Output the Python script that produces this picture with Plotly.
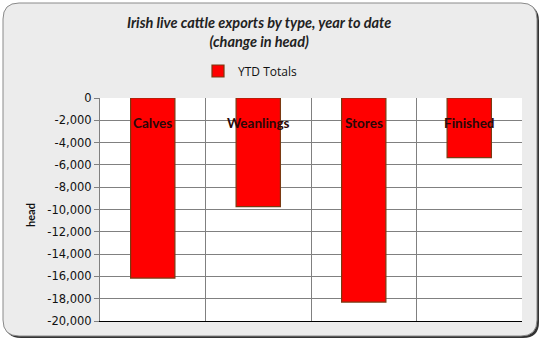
import plotly.graph_objects as go

categories = ["Calves", "Weanlings", "Stores", "Finished"]
ytd_totals = [-16150, -9750, -18300, -5350]
y_ticks = [0, -2000, -4000, -6000, -8000, -10000, -12000, -14000, -16000, -18000, -20000]
y_tick_labels = ["0", "-2,000", "-4,000", "-6,000", "-8,000", "-10,000", "-12,000",
                 "-14,000", "-16,000", "-18,000", "-20,000"]

W, H = 543, 341
L, R, T, B = 100, 21, 98, 20
pw, ph = W - L - R, H - T - B


def px(x):
    return (x - L) / pw


def py(y):
    return (H - B - y) / ph


def rounded_rect(x0, y0, x1, y1, r):
    pts = []
    pts.append(f"M {px(x0 + r)},{py(y0)}")
    pts.append(f"L {px(x1 - r)},{py(y0)}")
    pts.append(f"Q {px(x1)},{py(y0)} {px(x1)},{py(y0 + r)}")
    pts.append(f"L {px(x1)},{py(y1 - r)}")
    pts.append(f"Q {px(x1)},{py(y1)} {px(x1 - r)},{py(y1)}")
    pts.append(f"L {px(x0 + r)},{py(y1)}")
    pts.append(f"Q {px(x0)},{py(y1)} {px(x0)},{py(y1 - r)}")
    pts.append(f"L {px(x0)},{py(y0 + r)}")
    pts.append(f"Q {px(x0)},{py(y0)} {px(x0 + r)},{py(y0)}")
    pts.append("Z")
    return " ".join(pts)


fig = go.Figure()
fig.add_trace(go.Bar(
    x=categories, y=ytd_totals, name="YTD Totals",
    marker=dict(color="#ff0000", line=dict(color="#7a3a12", width=1.2)),
    width=0.42, showlegend=True,
))

shapes = [
    dict(type="path", xref="paper", yref="paper", layer="below",
         path=rounded_rect(5, 5, 539, 338, 16),
         fillcolor="#333333", line=dict(width=0)),
    dict(type="path", xref="paper", yref="paper", layer="below",
         path=rounded_rect(3, 3, 537, 336, 16),
         fillcolor="#ececec", line=dict(color="#8a8a8a", width=1)),
    dict(type="rect", xref="paper", yref="paper", layer="below",
         x0=0, x1=1, y0=0, y1=1, fillcolor="white", line=dict(width=0)),
]

annotations = [
    dict(x=c, y=-2200, xref="x", yref="y", text=f"<b>{c}</b>", showarrow=False,
         font=dict(family="Lato, Open Sans, sans-serif", size=13.5, color="#2a0808"),
         xanchor="center", yanchor="middle")
    for c in categories
]
annotations.append(dict(
    x=px(259), y=py(32), xref="paper", yref="paper", showarrow=False,
    text="<b><i>Irish live cattle exports by type, year to date<br>(change in head)</i></b>",
    font=dict(family="Lato, sans-serif", size=14.5, color="#222222"),
    xanchor="center", yanchor="middle", align="center",
))
annotations.append(dict(
    x=px(30), y=py(215), xref="paper", yref="paper", showarrow=False,
    text="<b>head</b>", textangle=-90,
    font=dict(family="Lato, sans-serif", size=11, color="#111111"),
    xanchor="center", yanchor="middle",
))

fig.update_layout(
    width=W, height=H,
    margin=dict(l=L, r=R, t=T, b=B, pad=0),
    paper_bgcolor="white", plot_bgcolor="white",
    shapes=shapes, annotations=annotations,
    legend=dict(orientation="h", x=px(250), y=py(71), xanchor="center", yanchor="middle",
                font=dict(family="Open Sans, sans-serif", size=12, color="#111111"),
                bgcolor="rgba(0,0,0,0)", itemwidth=30),
    xaxis=dict(type="category", tickson="boundaries", showticklabels=False,
               showgrid=True, gridcolor="#808080", gridwidth=1,
               showline=True, linecolor="#000000", linewidth=1, ticks="",
               range=[-0.5, 3.5], mirror=False),
    yaxis=dict(range=[-20000, 0], tickvals=y_ticks, ticktext=y_tick_labels,
               showgrid=True, gridcolor="#808080", gridwidth=1,
               showline=True, linecolor="#808080", linewidth=1,
               ticks="outside", ticklen=5, tickcolor="#808080",
               tickfont=dict(family="DejaVu Sans, sans-serif", size=11.5, color="#111111"),
               zeroline=False),
)
fig.write_html("out.html")
